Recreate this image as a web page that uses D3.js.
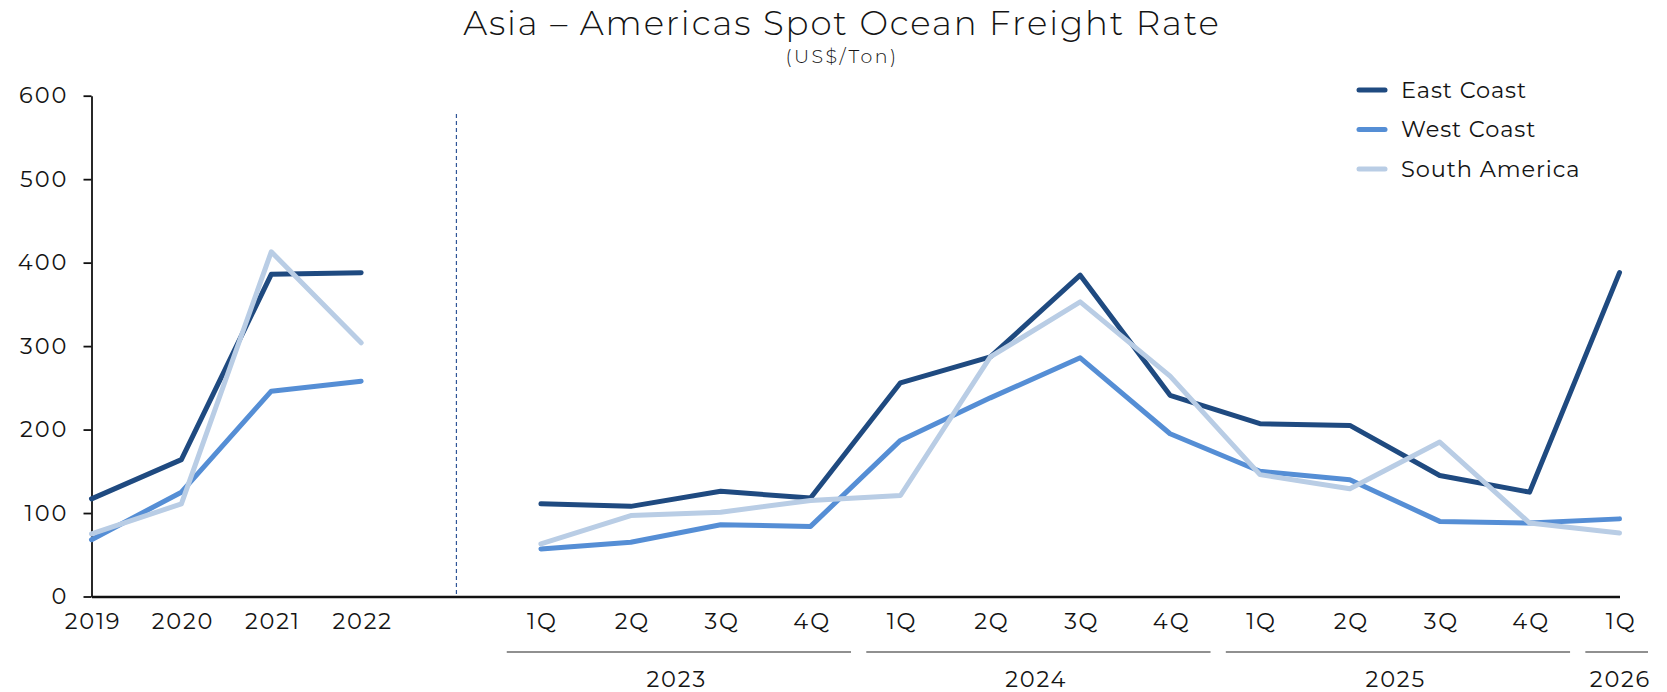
<!doctype html>
<html>
<head>
<meta charset="utf-8">
<script src="https://d3js.org/d3.v7.min.js"></script>
<style>
body {margin: 0; background: #fff;}
svg text {font-family: Montserrat, Inter, sans-serif; fill: #141414;}
</style>
</head>
<body>
<svg width="1667" height="692" class="chart"></svg>
<script>
// slots along the x axis; "gap" is the empty slot behind the dashed divider
var categories = ["2019", "2020", "2021", "2022", "gap",
    "2023-1Q", "2023-2Q", "2023-3Q", "2023-4Q",
    "2024-1Q", "2024-2Q", "2024-3Q", "2024-4Q",
    "2025-1Q", "2025-2Q", "2025-3Q", "2025-4Q",
    "2026-1Q"];
var tickLabels = ["2019", "2020", "2021", "2022", "",
    "1Q", "2Q", "3Q", "4Q", "1Q", "2Q", "3Q", "4Q", "1Q", "2Q", "3Q", "4Q", "1Q"];
var groupYears = ["2023", "2024", "2025", "2026"];

var eastCoast    = [117, 164, 386, 388, null, 111, 108, 126, 118, 256, 287, 385, 241, 207, 205, 145, 125, 388];
var westCoast    = [68, 125, 246, 258, null, 57, 65, 86, 84, 187, 238, 286, 195, 150, 140, 90, 88, 93];
var southAmerica = [75, 111, 413, 304, null, 63, 97, 101, 115, 121, 287, 353, 264, 146, 129, 185, 88, 76];

var seriesNames = ["East Coast", "West Coast", "South America"];
var yTicks = [0, 100, 200, 300, 400, 500, 600];

var colors = ["#1F4A80", "#558ED5", "#B9CDE5"];

var svg = d3.select(".chart");

var x = d3.scalePoint().domain(categories).range([91.5, 1619.5]),
    y = d3.scaleLinear().domain([0, 600]).range([596.5, 95.7]);

// title
svg.append("text")
    .attr("x", 842).attr("y", 35)
    .attr("text-anchor", "middle")
    .style("font-size", "34px")
    .style("font-weight", 300)
    .style("letter-spacing", "1.9px")
    .text("Asia \u2013 Americas Spot Ocean Freight Rate");

svg.append("text")
    .attr("x", 842).attr("y", 63)
    .attr("text-anchor", "middle")
    .style("font-size", "19px")
    .style("font-weight", 300)
    .style("letter-spacing", "2.4px")
    .text("(US$/Ton)");

// y axis
var yAxis = svg.append("g")
    .attr("transform", "translate(" + x.range()[0] + ",0)")
    .call(d3.axisLeft(y).tickValues(yTicks).tickSize(8).tickSizeOuter(0).tickPadding(15));
yAxis.selectAll("line, path").attr("stroke", "#111").attr("stroke-width", 1.8);
yAxis.selectAll("text").style("font-size", "22.5px").style("letter-spacing", "2px");

// dashed divider between yearly and quarterly data
var divX = x("gap") + x.step() * 0.06;
svg.append("line")
    .attr("x1", divX).attr("x2", divX)
    .attr("y1", y(578)).attr("y2", y(0))
    .attr("stroke", "#2F5597")
    .attr("stroke-width", 1.2)
    .attr("stroke-dasharray", "4,3");

// x axis
var xAxis = svg.append("g")
    .attr("transform", "translate(0," + y(0) + ")")
    .call(d3.axisBottom(x).tickSize(0).tickPadding(17)
        .tickFormat(function(d, i) { return tickLabels[i]; }));
xAxis.select(".domain").attr("stroke", "#111").attr("stroke-width", 2.5);
xAxis.selectAll("text")
    .attr("dx", "1px")
    .style("font-size", "22.5px")
    .style("letter-spacing", "1.8px");

// year groups under the quarters
groupYears.forEach(function(yr) {
    var keys = categories.filter(function(c) { return c.indexOf(yr + "-") === 0; });
    var x0 = x(keys[0]), x1 = x(keys[keys.length - 1]);
    svg.append("line")
        .attr("x1", x0 - x.step() * 0.38)
        .attr("x2", Math.min(x1 + x.step() * 0.45, 1648))
        .attr("y1", 652).attr("y2", 652)
        .attr("stroke", "#222")
        .attr("stroke-width", 1.2);
    svg.append("text")
        .attr("x", (x0 + x1) / 2 + 1).attr("y", 687)
        .attr("text-anchor", "middle")
        .style("font-size", "22.5px")
        .style("letter-spacing", "1.8px")
        .text(yr);
});

// lines
var allSeries = [eastCoast, westCoast, southAmerica];
var line = d3.line()
    .defined(function(d) { return d.v != null; })
    .x(function(d) { return x(d.k); })
    .y(function(d) { return y(d.v); });

allSeries.forEach(function(vals, s) {
    var pts = categories.map(function(c, i) { return {k: c, v: vals[i]}; });
    svg.append("path")
        .datum(pts)
        .attr("d", line)
        .attr("fill", "none")
        .attr("stroke", colors[s])
        .attr("stroke-width", 5)
        .attr("stroke-linejoin", "round")
        .attr("stroke-linecap", "round");
});

// legend
var legend = svg.append("g").attr("transform", "translate(1359,90)");
seriesNames.forEach(function(name, i) {
    legend.append("line")
        .attr("x1", 0).attr("x2", 26)
        .attr("y1", i * 39.5).attr("y2", i * 39.5)
        .attr("stroke", colors[i])
        .attr("stroke-width", 5)
        .attr("stroke-linecap", "round");
    legend.append("text")
        .attr("x", 42).attr("y", i * 39.5)
        .attr("dy", "0.35em")
        .style("font-size", "22.5px")
        .style("letter-spacing", "0.9px")
        .text(name);
});
</script>
</body>
</html>
